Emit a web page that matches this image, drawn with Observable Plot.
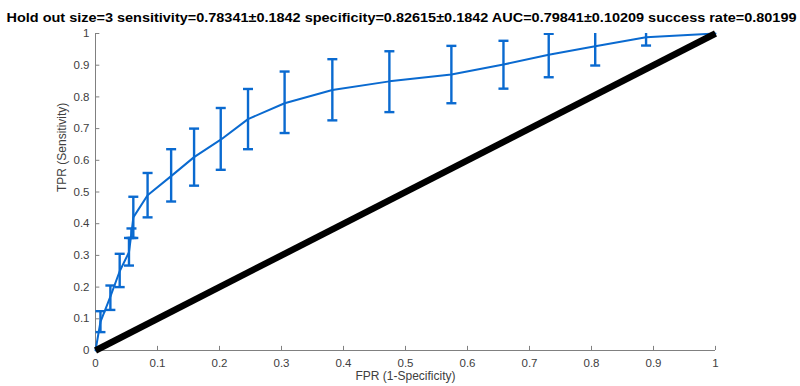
<!DOCTYPE html>
<html><head><meta charset="utf-8">
<script src="https://cdn.jsdelivr.net/npm/d3@7"></script>
<script src="https://cdn.jsdelivr.net/npm/@observablehq/plot@0.6"></script>
<style>body{margin:0;background:#fff} svg{display:block}</style>
</head><body><div id="chart"></div>
<script>
const titleText = "Hold out size=3 sensitivity=0.78341±0.1842 specificity=0.82615±0.1842 AUC=0.79841±0.10209 success rate=0.80199";
const xLabel = "FPR (1-Specificity)";
const yLabel = "TPR (Sensitivity)";

// ROC points with error bars
const fpr     = [0.008, 0.024, 0.039, 0.054, 0.058, 0.061, 0.084, 0.122, 0.159, 0.202, 0.246, 0.305, 0.382, 0.474, 0.574, 0.658, 0.731, 0.806, 0.888];
const tpr     = [0.090, 0.170, 0.250, 0.310, 0.370, 0.420, 0.490, 0.550, 0.610, 0.665, 0.730, 0.780, 0.822, 0.849, 0.871, 0.902, 0.933, 0.960, 0.988];
const tprLow  = [0.058, 0.128, 0.200, 0.268, 0.355, 0.355, 0.420, 0.470, 0.520, 0.570, 0.635, 0.686, 0.726, 0.752, 0.780, 0.826, 0.862, 0.899, 0.962];
const tprHigh = [0.124, 0.205, 0.305, 0.355, 0.385, 0.485, 0.560, 0.635, 0.700, 0.765, 0.825, 0.880, 0.919, 0.944, 0.961, 0.977, 0.999, 1.021, 1.014];

// curve end points
const curveStart = [0, 0];
const curveEnd = [1, 1];
// chance diagonal
const chanceX = [0, 1];
const chanceY = [0, 1];

const ticks = [0, 0.1, 0.2, 0.3, 0.4, 0.5, 0.6, 0.7, 0.8, 0.9, 1];
const tickLabels = ["0", "0.1", "0.2", "0.3", "0.4", "0.5", "0.6", "0.7", "0.8", "0.9", "1"];

const points = fpr.map((x, i) => ({x, y: tpr[i], lo: tprLow[i], hi: tprHigh[i]}));
const curve = [{x: curveStart[0], y: curveStart[1]}, ...points, {x: curveEnd[0], y: curveEnd[1]}];
const chance = chanceX.map((x, i) => ({x, y: chanceY[i]}));

const blue = "#0a6ad0";
const axisGray = "#808080";
const textGray = "#404040";
const capSymbol = {draw(context, size) { const r = Math.sqrt(size / Math.PI); context.moveTo(-r, 0); context.lineTo(r, 0); }};
const fmt = d => tickLabels[ticks.indexOf(d)];

const chart = Plot.plot({
  width: 800,
  height: 386,
  marginTop: 33,
  marginBottom: 36,
  marginLeft: 95,
  marginRight: 85,
  style: {fontFamily: "'Liberation Sans', Arial, sans-serif", fontSize: "11.5px", background: "#fff"},
  x: {domain: [0, 1]},
  y: {domain: [0, 1]},
  marks: [
    Plot.axisX({ticks, tickFormat: fmt, tickSize: 0, tickPadding: 8, label: null, color: textGray, fontSize: 11.5}),
    Plot.axisY({ticks, tickFormat: fmt, tickSize: 0, tickPadding: 6, label: null, color: textGray, fontSize: 11.5}),
    Plot.ruleY([0], {stroke: axisGray, strokeWidth: 1}),
    Plot.ruleX([0], {stroke: axisGray, strokeWidth: 1}),
    Plot.ruleX(ticks, {y1: 0, y2: 0.013, stroke: axisGray}),
    Plot.ruleY(ticks, {x1: 0, x2: 0.007, stroke: axisGray}),
    Plot.line(curve, {x: "x", y: "y", stroke: blue, strokeWidth: 2}),
    Plot.ruleX(points, {x: "x", y1: "lo", y2: "hi", stroke: blue, strokeWidth: 2.4, clip: true}),
    Plot.dot(points, {x: "x", y: "lo", symbol: capSymbol, r: 5, stroke: blue, strokeWidth: 2.4, fill: "none", clip: true}),
    Plot.dot(points, {x: "x", y: "hi", symbol: capSymbol, r: 5, stroke: blue, strokeWidth: 2.4, fill: "none", clip: true}),
    Plot.line(chance, {x: "x", y: "y", stroke: "black", strokeWidth: 6.5, strokeLinecap: "butt"}),
    Plot.text([titleText], {text: d => d, frameAnchor: "top", dy: -20, dx: -4, fontWeight: "bold", fontSize: 12.5, fill: "#000"}),
    Plot.text([xLabel], {text: d => d, frameAnchor: "bottom", dy: 29, fontSize: 12, fill: textGray}),
    Plot.text([yLabel], {text: d => d, frameAnchor: "left", dx: -33, rotate: -90, fontSize: 12, fill: textGray})
  ]
});
document.getElementById("chart").appendChild(chart);
// stretch title to match reference width
for (const t of chart.querySelectorAll("text")) {
  if (t.textContent === titleText) {
    t.setAttribute("textLength", 790);
    t.setAttribute("lengthAdjust", "spacingAndGlyphs");
  }
}
</script>
</body></html>
